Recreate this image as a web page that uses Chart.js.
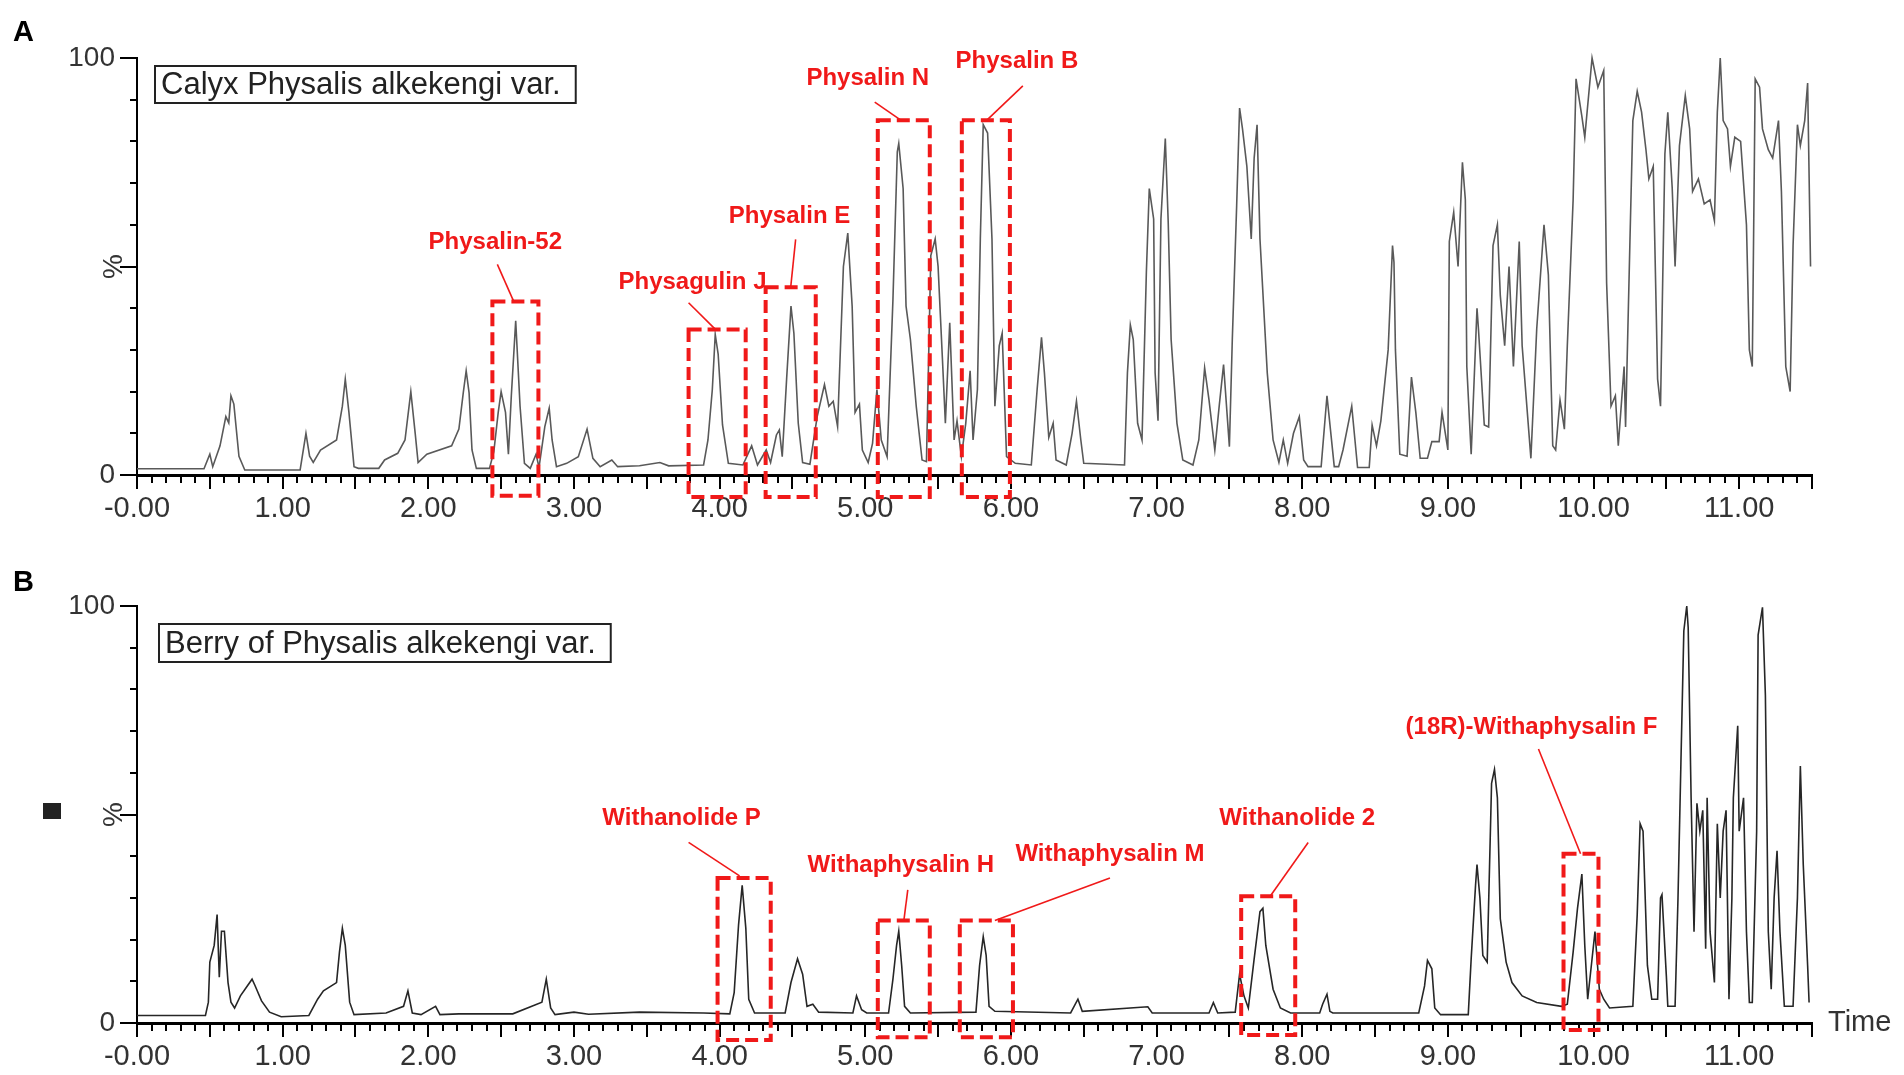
<!DOCTYPE html>
<html>
<head>
<meta charset="utf-8">
<script src="https://cdn.jsdelivr.net/npm/chart.js@4.4.1/dist/chart.umd.min.js"></script>
<style>
    html, body { margin: 0; padding: 0; background: #fff; }
    #wrap { position: relative; width: 1904px; height: 1075px; }
    canvas { position: absolute; left: 0; }
    #chartA { top: 0; }
    #chartB { top: 540px; }
</style>
</head>
<body>
<div id="wrap">
    <canvas id="chartA" width="1904" height="540"></canvas>
    <canvas id="chartB" width="1904" height="535"></canvas>
</div>
<script>
// axis tick values (labels on the time axis at whole minutes, 0 and 100 on the % axis)
const timeTicks = [0, 1, 2, 3, 4, 5, 6, 7, 8, 9, 10, 11];
const percentTicks = [0, 100];

// retention time (min) and relative intensity (%)
const timeA = [
    0.00, 0.46, 0.50, 0.52, 0.57, 0.61, 0.63, 0.645, 0.665, 0.70,
    0.74, 1.12, 1.16, 1.185, 1.21, 1.26, 1.37, 1.41, 1.43, 1.455,
    1.49, 1.52, 1.66, 1.70, 1.79, 1.84, 1.88, 1.91, 1.93, 1.99,
    2.16, 2.21, 2.24, 2.26, 2.28, 2.30, 2.33, 2.42, 2.45, 2.48,
    2.50, 2.53, 2.55, 2.57, 2.60, 2.63, 2.66, 2.70, 2.74, 2.76,
    2.80, 2.83, 2.85, 2.88, 2.95, 3.03, 3.09, 3.13, 3.18, 3.26,
    3.30, 3.45, 3.59, 3.65, 3.89, 3.92, 3.95, 3.97, 3.99, 4.02,
    4.06, 4.16, 4.22, 4.26, 4.32, 4.35, 4.39, 4.41, 4.43, 4.46,
    4.49, 4.51, 4.54, 4.57, 4.62, 4.67, 4.72, 4.75, 4.78, 4.81,
    4.85, 4.88, 4.91, 4.93, 4.96, 4.98, 5.02, 5.05, 5.08, 5.11,
    5.15, 5.19, 5.22, 5.23, 5.26, 5.28, 5.31, 5.35, 5.39, 5.42,
    5.45, 5.48, 5.50, 5.53, 5.55, 5.58, 5.61, 5.63, 5.66, 5.69,
    5.72, 5.74, 5.77, 5.79, 5.81, 5.84, 5.87, 5.89, 5.92, 5.94,
    5.97, 6.03, 6.14, 6.18, 6.21, 6.23, 6.26, 6.29, 6.31, 6.38,
    6.42, 6.45, 6.48, 6.50, 6.78, 6.80, 6.82, 6.84, 6.87, 6.90,
    6.93, 6.95, 6.98, 6.99, 7.01, 7.03, 7.06, 7.08, 7.10, 7.14,
    7.18, 7.25, 7.29, 7.33, 7.36, 7.40, 7.43, 7.46, 7.50, 7.52,
    7.55, 7.57, 7.59, 7.62, 7.65, 7.67, 7.69, 7.71, 7.76, 7.80,
    7.84, 7.87, 7.90, 7.94, 7.98, 8.01, 8.04, 8.13, 8.17, 8.22,
    8.25, 8.28, 8.34, 8.38, 8.46, 8.48, 8.51, 8.54, 8.59, 8.62,
    8.63, 8.64, 8.67, 8.72, 8.75, 8.78, 8.81, 8.86, 8.89, 8.94,
    8.96, 9.00, 9.01, 9.04, 9.07, 9.10, 9.12, 9.13, 9.16, 9.20,
    9.21, 9.25, 9.28, 9.31, 9.34, 9.36, 9.39, 9.42, 9.45, 9.49,
    9.51, 9.57, 9.61, 9.66, 9.69, 9.72, 9.74, 9.77, 9.80, 9.82,
    9.86, 9.88, 9.92, 9.94, 9.99, 10.03, 10.07, 10.09, 10.12, 10.15,
    10.17, 10.21, 10.22, 10.25, 10.27, 10.30, 10.33, 10.36, 10.38, 10.41,
    10.44, 10.46, 10.49, 10.51, 10.54, 10.56, 10.59, 10.63, 10.66, 10.68,
    10.72, 10.76, 10.80, 10.83, 10.85, 10.87, 10.89, 10.92, 10.94, 10.97,
    11.01, 11.05, 11.07, 11.09, 11.11, 11.14, 11.16, 11.20, 11.23, 11.27,
    11.29, 11.32, 11.35, 11.37, 11.40, 11.42, 11.45, 11.47, 11.49
];
const intensityA = [
    1.5, 1.5, 5, 2, 7, 14, 12.5, 19, 17, 4.5,
    1.2, 1.2, 10, 4.5, 3, 6, 8.4, 16.5, 23, 15,
    2, 1.6, 1.6, 3.6, 5.2, 8.4, 20, 10, 3, 5,
    7, 11, 19.7, 25, 19.7, 6, 1.6, 1.6, 5.6, 15,
    20, 15, 5, 19, 37, 16.5, 2.8, 1.6, 5, 1.8,
    11.6, 16, 8.4, 2, 2.8, 4.4, 11, 4, 2, 3.6,
    2, 2.2, 3, 2.2, 2.4, 8.4, 20.5, 33.7, 29, 12,
    2.8, 2.4, 7, 2.4, 6, 3, 9.6, 10.8, 4.4, 23,
    40.5, 34, 12.4, 3, 2.6, 14, 21.7, 16.5, 17.7, 11.6,
    50, 58, 40.5, 15, 17, 6, 3, 7.6, 20.5, 8.4,
    4.4, 42, 77.5, 79.5, 68.7, 40.5, 32.5, 16.5, 3.6, 3.2,
    52.6, 56.6, 50, 27.7, 12.4, 36.5, 8.4, 13, 4.4, 12.4,
    25, 8.4, 20.5, 56.6, 84, 82, 56.6, 16.5, 31, 34,
    4.4, 2.8, 2.4, 20.5, 33, 24.5, 9, 12.4, 3.6, 2.4,
    10, 17.7, 8.4, 2.8, 2.4, 24.5, 36, 32.5, 12.4, 8.4,
    48.6, 68.7, 61.4, 24.5, 13, 61.4, 80.7, 60.6, 32.5, 12.4,
    3.6, 2.4, 8.4, 25.7, 18, 6, 16.5, 26.5, 6.8, 32.5,
    64.7, 88, 83, 74, 56.6, 76, 84, 56.6, 24.5, 8.4,
    3, 8.4, 2.8, 10, 14, 3.6, 2, 2, 19, 2,
    2, 6, 16.5, 1.8, 1.8, 12, 7, 13, 30, 55,
    51, 30, 5, 4.5, 23.5, 15, 4, 4, 8, 8,
    15, 6, 56, 63, 50, 75, 66, 26, 5, 40,
    35, 12, 11.5, 55, 60, 43, 31, 50, 26, 56,
    31, 4, 35, 60, 48, 7, 6, 18, 11, 31,
    66, 95, 86, 81, 100, 93, 97, 46, 16.5, 19,
    7, 26, 11.5, 56, 85, 92, 87, 78, 71, 74,
    23, 16.5, 77, 87, 69, 50, 79, 91, 83, 68,
    71, 65, 66, 61, 87, 100, 85, 83, 74, 81,
    80, 60, 30, 26, 95, 93, 83, 78, 76, 85,
    68, 26, 20, 55, 84, 79, 85, 94, 50
];

const timeB = [
    0.00, 0.47, 0.49, 0.50, 0.53, 0.55, 0.565, 0.58, 0.60, 0.625,
    0.645, 0.67, 0.71, 0.75, 0.79, 0.81, 0.855, 0.91, 0.99, 1.18,
    1.24, 1.28, 1.37, 1.39, 1.41, 1.43, 1.46, 1.49, 1.71, 1.83,
    1.86, 1.89, 1.95, 2.05, 2.08, 2.21, 2.58, 2.78, 2.81, 2.84,
    2.87, 3.00, 3.10, 3.45, 3.89, 4.07, 4.10, 4.13, 4.155, 4.18,
    4.20, 4.24, 4.45, 4.49, 4.535, 4.57, 4.60, 4.64, 4.68, 4.915,
    4.94, 4.975, 5.01, 5.16, 5.19, 5.215, 5.23, 5.25, 5.27, 5.31,
    5.76, 5.785, 5.81, 5.83, 5.85, 5.89, 6.41, 6.46, 6.49, 6.94,
    6.97, 7.36, 7.39, 7.42, 7.54, 7.57, 7.60, 7.63, 7.67, 7.71,
    7.73, 7.75, 7.80, 7.85, 7.92, 8.12, 8.14, 8.17, 8.19, 8.21,
    8.80, 8.84, 8.86, 8.89, 8.91, 8.95, 9.14, 9.16, 9.19, 9.20,
    9.22, 9.24, 9.27, 9.30, 9.32, 9.34, 9.36, 9.40, 9.44, 9.51,
    9.61, 9.78, 9.82, 9.86, 9.89, 9.92, 9.94, 9.96, 9.99, 10.01,
    10.04, 10.07, 10.11, 10.27, 10.30, 10.32, 10.34, 10.37, 10.40, 10.44,
    10.46, 10.47, 10.50, 10.51, 10.56, 10.58, 10.60, 10.62, 10.64, 10.65,
    10.67, 10.69, 10.71, 10.73, 10.75, 10.77, 10.78, 10.80, 10.83, 10.85,
    10.87, 10.89, 10.91, 10.93, 10.95, 10.96, 10.99, 11.00, 11.03, 11.05,
    11.07, 11.09, 11.12, 11.13, 11.16, 11.18, 11.20, 11.22, 11.24, 11.26,
    11.28, 11.31, 11.37, 11.40, 11.42, 11.44, 11.47, 11.48
];
const intensityB = [
    1.8, 1.8, 5, 14.6, 18.6, 26, 11, 22, 22, 9.7,
    5, 3.6, 6.5, 8.5, 10.5, 9, 5.3, 2.6, 1.5, 1.8,
    5.7, 7.7, 9.7, 17, 22.7, 18.6, 5, 2, 2.4, 4,
    7.7, 2.4, 2, 4, 2, 2.2, 2.2, 5, 10.5, 3.6,
    2, 2.6, 2.1, 2.6, 2.4, 2.2, 7.3, 23.5, 33, 22.7,
    5.7, 2.4, 2.4, 9.7, 15.4, 11.7, 4, 4.5, 2.6, 2.4,
    6.5, 3.2, 2.4, 2.4, 10.5, 18.6, 22, 13.8, 4, 2.4,
    2.6, 13.8, 20.7, 16.2, 4, 2.8, 2.4, 5.7, 2.8, 3.9,
    2.4, 2.4, 4.9, 2.4, 2.6, 11.7, 6.5, 3.6, 15.4, 26.7,
    27.5, 18.6, 8.1, 3.6, 2.4, 2.4, 4.5, 6.9, 2.8, 2.4,
    2.4, 8.9, 15, 13, 3.6, 2, 2, 15.4, 33, 38,
    30, 16.2, 14.6, 57.5, 60.8, 54, 25, 14.6, 9.7, 6.5,
    4.9, 4, 4.5, 17, 27.5, 35.7, 18.6, 5.7, 15.4, 21.9,
    8.1, 5.7, 3.6, 4, 26, 47.8, 46, 13.8, 5.7, 5.7,
    30, 30.8, 11.3, 4, 4, 30, 62.4, 94, 100, 94.8,
    54, 21.9, 52.7, 46, 51, 17.8, 54, 21.9, 9.7, 47.8,
    30, 46, 51, 5.7, 30, 54, 71.3, 46, 54, 21.9,
    4.9, 4.9, 46, 93, 99.7, 78.6, 21.9, 8.1, 30, 41.3,
    21.9, 4, 4, 30, 61.6, 38, 13.8, 4.9
];

// compound labels: box [t1, t2, lowValue, highValue], label centre [t, value], leader [t1, v1, t2, v2]
const compoundsA = [
    { name: 'Physalin-52',  box: [2.44, 2.756, -5, 41.6],  label: [2.46, 55.8],  lead: [2.474, 50.5, 2.584, 41.8] },
    { name: 'Physagulin J', box: [3.787, 4.179, -5.3, 34.9], label: [3.814, 46.2], lead: [3.787, 41.3, 3.966, 35.1] },
    { name: 'Physalin E',   box: [4.316, 4.66, -5.3, 45],  label: [4.48, 62],    lead: [4.522, 56.5, 4.488, 45] },
    { name: 'Physalin N',   box: [5.086, 5.443, -5.3, 85.1], label: [5.017, 95],  lead: [5.065, 89.4, 5.244, 85.1] },
    { name: 'Physalin B',   box: [5.663, 5.993, -5.3, 85.1], label: [6.041, 99.3], lead: [6.082, 93.3, 5.835, 85.1] }
];
const compoundsB = [
    { name: 'Withanolide P',        box: [3.986, 4.351, -4.1, 34.8], label: [3.739, 49.1], lead: [3.787, 43.3, 4.137, 35.3] },
    { name: 'Withaphysalin H',      box: [5.086, 5.443, -3.4, 24.6], label: [5.244, 37.7], lead: [5.292, 31.9, 5.265, 24.6] },
    { name: 'Withaphysalin M',      box: [5.649, 6.014, -3.4, 24.6], label: [6.68, 40.4],  lead: [6.68, 34.8, 5.89, 24.6] },
    { name: 'Withanolide 2',        box: [7.581, 7.952, -2.9, 30.4], label: [7.966, 49.1], lead: [8.041, 43.3, 7.78, 30.4] },
    { name: '(18R)-Withaphysalin F', box: [9.794, 10.034, -1.7, 40.6], label: [9.574, 70.8], lead: [9.622, 65.7, 9.911, 40.6] }
];

const RED = '#f01919';
const FONT = '"Liberation Sans", Arial, sans-serif';
Chart.defaults.font.family = FONT;

// ticks, sample box, red compound boxes and the loose marks round each trace
const decorPlugin = {
    id: 'decor',
    afterDraw(chart, args, o) {
        const ctx = chart.ctx;
        const xs = chart.scales.x, ys = chart.scales.y, ca = chart.chartArea;
        ctx.save();

        // minor / major tick marks
        ctx.strokeStyle = '#000';
        ctx.lineWidth = 2;
        for (let i = 0; i <= 115; i++) {
            const px = Math.round(xs.getPixelForValue(i / 10));
            const len = i % 5 === 0 ? 14 : 8;
            ctx.beginPath();
            ctx.moveTo(px, ca.bottom);
            ctx.lineTo(px, ca.bottom + len);
            ctx.stroke();
        }
        for (let v = 0; v <= 100; v += 10) {
            const py = Math.round(ys.getPixelForValue(v));
            const len = v % 50 === 0 ? 17 : 7;
            ctx.beginPath();
            ctx.moveTo(ca.left, py);
            ctx.lineTo(ca.left - len, py);
            ctx.stroke();
        }

        // sample name box
        ctx.font = '31px ' + FONT;
        const w = ctx.measureText(o.sample).width;
        ctx.strokeStyle = '#222';
        ctx.lineWidth = 2;
        ctx.strokeRect(o.boxX, o.boxY, w + 21, o.boxH);
        ctx.fillStyle = '#222';
        ctx.textAlign = 'left';
        ctx.textBaseline = 'middle';
        ctx.fillText(o.sample, o.boxX + 6, o.boxY + o.boxH / 2 + 1);

        // panel letter
        ctx.font = 'bold 29px ' + FONT;
        ctx.fillStyle = '#000';
        ctx.fillText(o.letter, 13, o.letterY);

        if (o.square) {
            ctx.fillStyle = '#222';
            ctx.fillRect(o.square[0], o.square[1], o.square[2], o.square[3]);
        }
        if (o.timeLabel) {
            ctx.font = '29px ' + FONT;
            ctx.fillStyle = '#333';
            ctx.fillText('Time', ca.right + 16, ca.bottom);
        }

        // compound boxes
        o.compounds.forEach(c => {
            const x1 = xs.getPixelForValue(c.box[0]), x2 = xs.getPixelForValue(c.box[1]);
            const y1 = ys.getPixelForValue(c.box[3]), y2 = ys.getPixelForValue(c.box[2]);
            ctx.strokeStyle = RED;
            ctx.lineWidth = 4;
            ctx.setLineDash([13, 6]);
            ctx.strokeRect(x1, y1, x2 - x1, y2 - y1);
            ctx.setLineDash([]);
            ctx.lineWidth = 1.6;
            ctx.beginPath();
            ctx.moveTo(xs.getPixelForValue(c.lead[0]), ys.getPixelForValue(c.lead[1]));
            ctx.lineTo(xs.getPixelForValue(c.lead[2]), ys.getPixelForValue(c.lead[3]));
            ctx.stroke();
            ctx.font = 'bold 24px ' + FONT;
            ctx.fillStyle = RED;
            ctx.textAlign = 'center';
            ctx.textBaseline = 'middle';
            ctx.fillText(c.name, xs.getPixelForValue(c.label[0]), ys.getPixelForValue(c.label[1]));
        });
        ctx.restore();
    }
};

function makeChart(id, times, values, color, padTop, axisHeight, decor) {
    const points = times.map((t, i) => ({ x: t, y: values[i] }));
    return new Chart(document.getElementById(id), {
        type: 'line',
        data: {
            datasets: [{
                data: points,
                borderColor: color,
                borderWidth: 1.6,
                pointRadius: 0,
                tension: 0,
                fill: false,
                clip: 8
            }]
        },
        options: {
            responsive: false,
            animation: false,
            parsing: false,
            layout: { padding: { left: 60, right: 92, top: padTop, bottom: 0 } },
            plugins: {
                legend: { display: false },
                tooltip: { enabled: false },
                decor: decor
            },
            scales: {
                x: {
                    type: 'linear',
                    min: 0,
                    max: 11.5,
                    afterBuildTicks(s) { s.ticks = timeTicks.map(v => ({ value: v })); },
                    afterFit(s) { s.height = axisHeight; },
                    border: { display: true, color: '#000', width: 3 },
                    grid: { display: false, drawTicks: false },
                    ticks: {
                        autoSkip: false,
                        maxRotation: 0,
                        padding: 17,
                        color: '#333',
                        font: { size: 29 },
                        callback: v => v === 0 ? '-0.00' : v.toFixed(2)
                    }
                },
                y: {
                    type: 'linear',
                    min: 0,
                    max: 100,
                    afterBuildTicks(s) { s.ticks = percentTicks.map(v => ({ value: v })); },
                    afterFit(s) { s.width = 77; },
                    border: { display: true, color: '#000', width: 2 },
                    grid: { display: false, drawTicks: false },
                    ticks: {
                        autoSkip: false,
                        padding: 22,
                        color: '#333',
                        font: { size: 28 },
                        callback: v => String(v)
                    },
                    title: { display: true, text: '%', color: '#333', font: { size: 28 }, padding: { top: 37, bottom: 0 } }
                }
            }
        },
        plugins: [decorPlugin]
    });
}

makeChart('chartA', timeA, intensityA, '#595959', 58, 65, {
    sample: 'Calyx Physalis alkekengi var.',
    boxX: 155, boxY: 66, boxH: 37,
    letter: 'A', letterY: 33,
    compounds: compoundsA
});

makeChart('chartB', timeB, intensityB, '#262626', 66, 52, {
    sample: 'Berry of Physalis alkekengi var.',
    boxX: 159, boxY: 84, boxH: 38,
    letter: 'B', letterY: 43,
    square: [43, 263, 18, 16],
    timeLabel: true,
    compounds: compoundsB
});
</script>
</body>
</html>
